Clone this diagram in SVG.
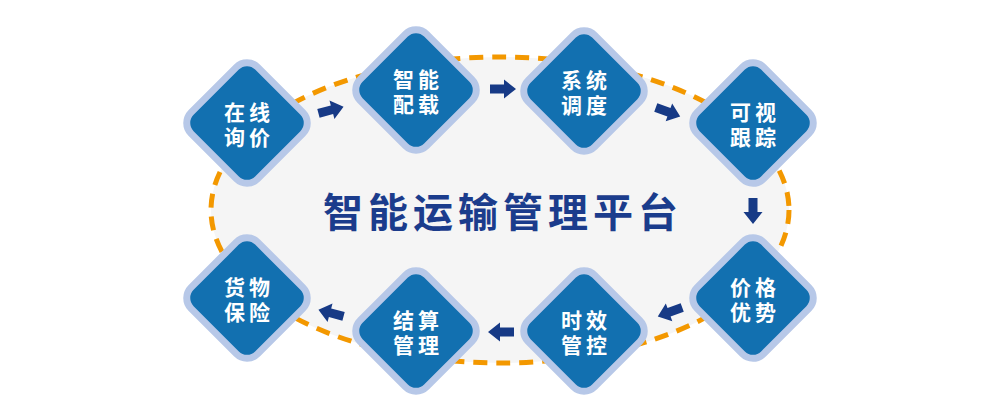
<svg xmlns="http://www.w3.org/2000/svg" width="1000" height="417" viewBox="0 0 1000 417">
<defs>
<style>
.ring{fill:#1270b0;stroke:#b7c8e8;stroke-width:7}
.lbl{font-family:"Noto Sans CJK SC","Noto Sans",sans-serif;font-weight:bold;font-size:21px;fill:#ffffff;text-anchor:middle;letter-spacing:4px}
.title{font-family:"Noto Sans CJK SC","Noto Sans",sans-serif;font-weight:bold;font-size:40px;fill:#1b3c8c;text-anchor:middle;letter-spacing:5px}
.arr{fill:#173a86}
</style>
<rect id="dia" x="-47" y="-47" width="94" height="94" rx="15" ry="15" transform="rotate(45)"/>
<path id="arrow" d="M-13,-4.5 L1,-4.5 L1,-9.5 L13,0 L1,9.5 L1,4.5 L-13,4.5 Z"/>
</defs>
<rect width="1000" height="417" fill="#ffffff"/>
<g id="platform">
<ellipse cx="500" cy="210" rx="289" ry="153" fill="#f5f5f5" stroke="#f39800" stroke-width="5" stroke-dasharray="14 9"/>
<text class="title" x="503" y="227">智能运输管理平台</text>
</g>
<g id="connectors" class="arr">
<use href="#arrow" transform="translate(331,110) rotate(-15)"/>
<use href="#arrow" transform="translate(503,89)"/>
<use href="#arrow" transform="translate(668,112) rotate(20)"/>
<use href="#arrow" transform="translate(753,211) rotate(90)"/>
<use href="#arrow" transform="translate(670,312) rotate(160)"/>
<use href="#arrow" transform="translate(501,332) rotate(180)"/>
<use href="#arrow" transform="translate(331,313) rotate(195)"/>
</g>
<g id="n1"><use href="#dia" class="ring" transform="translate(247,123)"/><text class="lbl"><tspan x="249" y="120">在线</tspan><tspan x="249" y="145">询价</tspan></text></g>
<g id="n2"><use href="#dia" class="ring" transform="translate(416,90)"/><text class="lbl"><tspan x="418" y="87">智能</tspan><tspan x="418" y="112">配载</tspan></text></g>
<g id="n3"><use href="#dia" class="ring" transform="translate(584,91)"/><text class="lbl"><tspan x="586" y="88">系统</tspan><tspan x="586" y="113">调度</tspan></text></g>
<g id="n4"><use href="#dia" class="ring" transform="translate(753,123)"/><text class="lbl"><tspan x="755" y="120">可视</tspan><tspan x="755" y="145">跟踪</tspan></text></g>
<g id="n5"><use href="#dia" class="ring" transform="translate(753,298)"/><text class="lbl"><tspan x="755" y="295">价格</tspan><tspan x="755" y="320">优势</tspan></text></g>
<g id="n6"><use href="#dia" class="ring" transform="translate(584,331)"/><text class="lbl"><tspan x="586" y="328">时效</tspan><tspan x="586" y="353">管控</tspan></text></g>
<g id="n7"><use href="#dia" class="ring" transform="translate(416,331)"/><text class="lbl"><tspan x="418" y="328">结算</tspan><tspan x="418" y="353">管理</tspan></text></g>
<g id="n8"><use href="#dia" class="ring" transform="translate(247,298)"/><text class="lbl"><tspan x="249" y="295">货物</tspan><tspan x="249" y="320">保险</tspan></text></g>
</svg>
